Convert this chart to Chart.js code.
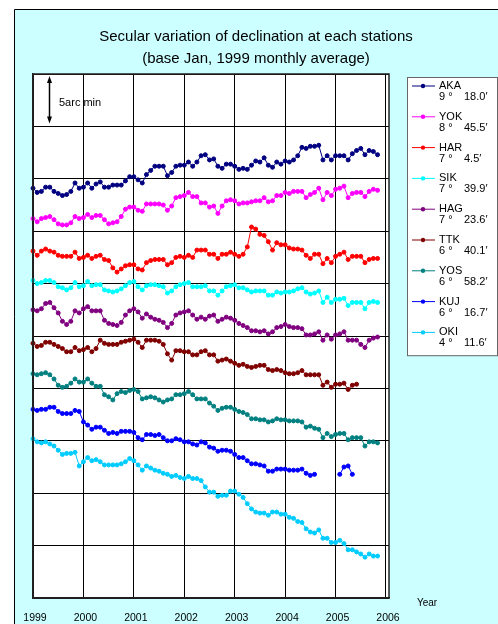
<!DOCTYPE html>
<html>
<head>
<meta charset="utf-8">
<script src="https://cdn.jsdelivr.net/npm/chart.js@4.4.1/dist/chart.umd.min.js"></script>
<style>
  html, body { margin: 0; padding: 0; background: #fff; }
</style>
</head>
<body>
<canvas id="decl" width="498" height="624"></canvas>
<script>
const FONT = '"Liberation Sans", Arial, sans-serif';

const STATIONS = ['AKA', 'YOK', 'HAR', 'SIK', 'HAG', 'TTK', 'YOS', 'KUJ', 'OKI'];
const BASE_DEG = ['9', '8', '7', '7', '7', '6', '6', '6', '4'];
const BASE_MIN = ['18.0', '45.5', '4.5', '39.9', '23.6', '40.1', '58.2', '16.7', '11.6'];
const COLORS = ['#000080', '#ff00ff', '#ff0000', '#00ffff', '#800080', '#800000', '#008080', '#0000ff', '#00ccff'];

const START_YEAR = 1999;
const YEAR_TICKS = [1999, 2000, 2001, 2002, 2003, 2004, 2005, 2006];

// monthly values (arc min, offset per station for display), from Jan 1999
const aka = [39.1,38.7,38.8,39.2,39.2,38.8,38.6,38.4,38.5,38.8,
  39.6,39.1,39.2,39.6,39.1,39.5,39.7,39.2,39.2,39.4,
  39.4,39.4,39.8,40.2,40.2,39.9,39.6,40.4,40.8,41.2,
  41.2,41.2,40.3,40.6,41.2,41.3,41.3,41.6,41.2,41.6,
  42.2,42.3,41.8,41.9,41.2,41.0,41.4,41.4,41.2,40.9,
  41.0,40.9,41.3,41.7,41.6,42.0,41.3,41.1,41.6,41.4,
  41.7,41.6,41.8,42.2,43.0,42.9,43.1,43.1,43.2,41.8,
  42.2,41.8,42.2,42.2,42.2,41.8,42.4,42.7,42.9,42.3,
  42.7,42.6,42.3];
const yok = [36.2,35.9,36.2,36.3,36.4,36.1,35.7,35.6,35.6,35.8,
  36.4,36.2,36.3,36.6,36.3,36.5,36.5,36.1,35.7,35.8,
  35.9,36.4,37.1,37.3,37.3,37.0,36.9,37.6,37.6,37.6,
  37.6,37.5,37.0,37.4,38.2,38.3,38.4,38.7,38.3,38.3,
  37.7,37.7,37.3,37.4,36.7,37.4,37.9,38.0,37.9,37.6,
  37.7,37.7,37.8,37.9,37.9,38.2,37.8,37.9,38.4,38.4,
  38.7,38.6,38.8,38.8,38.8,38.2,38.5,38.7,39.1,38.0,
  38.7,38.4,39.0,39.1,39.3,38.2,38.6,38.7,38.7,38.3,
  38.8,39.0,38.9];
const har = [33.1,32.7,33.1,33.3,33.1,33.0,32.7,32.6,32.6,32.6,
  33.0,32.4,32.5,32.7,32.4,32.6,32.7,32.3,32.2,31.5,
  31.1,31.4,31.7,31.8,31.8,31.4,31.3,32.0,32.2,32.3,
  32.3,32.3,31.8,32.0,32.5,32.6,32.5,32.7,32.5,33.2,
  33.2,33.2,32.8,32.8,32.4,32.8,32.8,33.0,32.8,32.6,
  32.8,33.5,35.4,35.2,34.7,34.6,34.0,33.2,33.9,33.7,
  33.7,33.4,33.3,33.3,33.2,32.7,32.4,32.8,32.8,31.9,
  32.4,32.0,32.6,32.8,33.0,32.3,32.6,32.6,32.6,32.0,
  32.3,32.4,32.4];
const sik = [30.3,30.0,30.1,30.3,30.3,30.1,29.7,29.6,29.4,29.6,
  30.1,29.7,29.8,30.2,29.8,29.9,29.9,29.4,29.3,29.2,
  29.3,29.5,29.8,30.1,30.2,29.7,29.4,29.8,29.9,29.9,
  29.8,29.7,29.1,29.3,29.7,29.9,30.0,30.1,29.7,29.7,
  29.7,29.8,29.3,29.3,28.9,29.3,29.7,29.8,29.9,29.6,
  29.6,29.4,29.2,29.3,29.3,29.3,28.9,28.9,29.2,29.1,
  29.2,29.2,29.3,29.5,29.6,29.2,29.0,29.1,29.3,28.2,
  28.7,28.2,28.5,28.5,28.6,27.9,28.2,28.2,28.2,27.6,
  28.2,28.3,28.2];
const hag = [27.5,27.4,27.6,28.1,28.2,27.7,27.2,26.4,26.1,26.4,
  27.4,27.2,27.6,27.8,27.4,27.4,27.4,26.5,26.2,26.1,
  26.0,26.3,27.0,27.4,27.6,27.3,26.7,27.1,26.8,26.6,
  26.5,26.3,25.8,26.2,27.0,27.2,27.3,27.4,27.0,26.6,
  26.8,26.6,26.9,27.0,26.4,26.6,26.8,26.7,26.5,26.2,
  26.0,25.8,25.5,25.5,25.4,25.5,25.2,25.4,25.8,25.9,
  26.1,25.9,25.8,25.8,25.7,25.1,25.1,25.2,25.4,24.6,
  25.1,24.7,25.1,25.2,25.4,24.6,24.6,24.6,24.2,23.9,
  24.6,24.8,24.9];
const ttk = [24.3,24.0,24.1,24.4,24.4,24.2,24.0,23.8,23.5,23.5,
  23.9,23.6,23.7,23.9,23.5,23.8,24.6,24.3,24.2,24.2,
  24.2,24.4,24.5,24.6,24.7,24.4,23.9,24.6,24.6,24.6,
  24.5,24.2,23.3,22.7,23.6,23.6,23.5,23.5,23.2,23.2,
  23.5,23.6,23.2,23.2,22.6,22.7,22.8,22.6,22.4,22.2,
  22.3,22.1,22.0,22.1,22.2,22.2,21.8,21.7,21.8,21.7,
  21.5,21.4,21.4,21.5,21.7,21.3,21.3,21.3,21.3,20.3,
  20.6,20.1,20.4,20.4,20.5,19.9,20.3,20.4];
const yos = [21.4,21.3,21.4,21.5,21.3,20.9,20.3,20.1,20.2,20.5,
  20.9,20.6,20.6,20.9,20.5,20.2,20.2,19.4,19.2,18.9,
  19.5,19.7,19.6,19.8,19.9,19.7,19.0,19.1,19.2,19.1,
  18.9,18.7,18.9,19.0,19.4,19.4,19.5,19.7,19.4,19.0,
  19.0,19.0,18.6,18.3,17.9,18.1,18.2,18.2,18.0,17.8,
  17.7,17.5,17.1,17.1,17.0,17.0,16.8,16.9,17.1,17.0,
  17.0,16.9,16.9,16.9,16.8,16.3,16.4,16.2,16.1,15.3,
  15.7,15.4,15.6,15.7,15.7,15.1,15.3,15.3,15.3,14.5,
  14.9,14.9,14.8];
const kuj = [18.0,17.9,18.0,18.0,18.2,18.2,17.8,17.6,17.6,17.6,
  17.9,17.8,16.8,16.5,16.1,16.3,16.3,16.0,15.7,15.8,
  15.7,15.9,15.9,15.9,15.8,15.3,15.1,15.6,15.6,15.5,
  15.6,15.3,15.0,15.0,15.2,15.1,14.9,14.9,14.7,14.6,
  14.9,14.8,14.4,14.3,14.0,14.1,14.1,14.0,13.7,13.4,
  13.4,13.1,12.8,12.8,12.7,12.6,12.1,12.1,12.3,12.3,
  12.3,12.2,12.2,12.2,12.3,11.9,11.7,11.8,null,null,
  null,null,null,11.8,12.5,12.6,11.8];
const oki = [15.2,14.9,14.8,14.9,14.7,14.5,14.1,13.7,13.8,13.8,
  13.9,12.6,13.0,13.4,13.1,13.2,13.0,12.7,12.7,12.7,
  12.7,12.8,13.0,13.3,13.1,12.7,12.2,12.6,12.4,12.2,
  12.1,11.9,11.8,11.6,11.7,11.5,11.4,11.6,11.4,11.4,
  11.2,10.6,10.1,10.1,9.7,9.8,9.8,10.2,10.2,9.9,
  9.6,9.0,8.5,8.2,8.1,8.1,7.9,8.2,8.2,8.0,
  8.0,7.7,7.6,7.3,7.2,6.6,6.3,6.2,6.5,5.7,
  5.7,5.3,5.3,5.5,5.2,4.6,4.6,4.4,4.2,3.9,
  4.2,4.0,4.0];

const SERIES = [aka, yok, har, sik, hag, ttk, yos, kuj, oki];

function toPoints(values) {
  return values.map((v, i) => ({ x: START_YEAR + i / 12, y: v }));
}

const FRAME_LEFT = 14;
const FRAME_TOP = 9;

const framePlugin = {
  id: 'frame',
  beforeDraw(chart) {
    const { ctx, chartArea: a } = chart;
    ctx.save();
    ctx.fillStyle = '#fff';
    ctx.fillRect(0, 0, chart.width, chart.height);
    ctx.fillStyle = '#ccffff';
    ctx.fillRect(FRAME_LEFT, FRAME_TOP, chart.width - FRAME_LEFT, chart.height - FRAME_TOP);
    ctx.strokeStyle = '#000';
    ctx.lineWidth = 1;
    ctx.beginPath();
    ctx.moveTo(FRAME_LEFT + 0.5, chart.height);
    ctx.lineTo(FRAME_LEFT + 0.5, FRAME_TOP + 0.5);
    ctx.lineTo(chart.width, FRAME_TOP + 0.5);
    ctx.stroke();
    ctx.fillStyle = '#fff';
    ctx.fillRect(a.left, a.top, a.right - a.left, a.bottom - a.top);
    ctx.restore();
  }
};

const notesPlugin = {
  id: 'notes',
  afterDraw(chart) {
    const { ctx, chartArea: a, scales: { y } } = chart;
    ctx.save();

    // plot border
    ctx.strokeStyle = '#222';
    ctx.lineWidth = 1.5;
    ctx.strokeRect(a.left, a.top, a.right - a.left, a.bottom - a.top);

    // 5 arc min scale arrow
    const ax = Math.round(a.left + 16) + 0.5;
    const y0 = y.getPixelForValue(50) + 2;
    const y1 = y.getPixelForValue(45) - 3;
    ctx.strokeStyle = '#000';
    ctx.fillStyle = '#000';
    ctx.lineWidth = 1.5;
    ctx.beginPath();
    ctx.moveTo(ax, y0 + 4);
    ctx.lineTo(ax, y1 - 4);
    ctx.stroke();
    ctx.beginPath();
    ctx.moveTo(ax, y0);
    ctx.lineTo(ax - 2.5, y0 + 7);
    ctx.lineTo(ax + 2.5, y0 + 7);
    ctx.closePath();
    ctx.fill();
    ctx.beginPath();
    ctx.moveTo(ax, y1);
    ctx.lineTo(ax - 2.5, y1 - 7);
    ctx.lineTo(ax + 2.5, y1 - 7);
    ctx.closePath();
    ctx.fill();
    ctx.font = '11px ' + FONT;
    ctx.textAlign = 'left';
    ctx.textBaseline = 'middle';
    ctx.fillText('5arc min', a.left + 26, (y0 + y1) / 2 + 3);

    // axis name
    ctx.font = '10px ' + FONT;
    ctx.textAlign = 'center';
    ctx.fillText('Year', a.right + 38, a.bottom + 5);

    // station legend
    const lx = a.right + 18;
    const ly = a.top + 3;
    const rowH = 30.8;
    const boxW = 90;
    const boxH = rowH * STATIONS.length + 1;
    ctx.fillStyle = '#fff';
    ctx.fillRect(lx, ly, boxW, boxH);
    ctx.strokeStyle = '#666';
    ctx.lineWidth = 1;
    ctx.strokeRect(lx + 0.5, ly + 0.5, boxW, boxH);
    ctx.font = '11px ' + FONT;
    ctx.textAlign = 'left';
    STATIONS.forEach((name, i) => {
      const cy = ly + 9 + i * rowH;
      ctx.strokeStyle = COLORS[i];
      ctx.lineWidth = 1;
      ctx.beginPath();
      ctx.moveTo(lx + 5, cy);
      ctx.lineTo(lx + 28, cy);
      ctx.stroke();
      ctx.fillStyle = COLORS[i];
      ctx.beginPath();
      ctx.arc(lx + 16, cy, 2.2, 0, Math.PI * 2);
      ctx.fill();
      ctx.fillStyle = '#000';
      ctx.fillText(name, lx + 32, cy);
      ctx.fillText(BASE_DEG[i] + ' \u00b0', lx + 32, cy + 11);
      ctx.fillText(BASE_MIN[i] + '\u2032', lx + 57, cy + 11);
    });

    ctx.restore();
  }
};

const datasets = STATIONS.map((name, k) => ({
  label: name,
  data: toPoints(SERIES[k]),
  borderColor: COLORS[k],
  backgroundColor: COLORS[k],
  borderWidth: 1,
  pointRadius: 2,
  pointBorderWidth: 1,
  pointHoverRadius: 2,
  tension: 0,
  spanGaps: false,
  clip: false
}));

new Chart(document.getElementById('decl'), {
  type: 'line',
  data: { datasets },
  options: {
    responsive: false,
    animation: false,
    events: [],
    layout: { padding: { left: FRAME_LEFT, top: FRAME_TOP, right: 0, bottom: 0 } },
    plugins: {
      legend: { display: false },
      tooltip: { enabled: false },
      title: {
        display: true,
        text: ['Secular variation of declination at each stations', '(base Jan, 1999 monthly average)'],
        color: '#000',
        font: { family: FONT, size: 15, weight: 'normal', lineHeight: '22px' },
        padding: { top: 17, bottom: 4 }
      }
    },
    scales: {
      x: {
        type: 'linear',
        min: 1999,
        max: 2006.06,
        afterBuildTicks: (scale) => { scale.ticks = YEAR_TICKS.map(v => ({ value: v })); },
        ticks: {
          color: '#000',
          font: { family: FONT, size: 10.5 },
          padding: 14,
          labelOffset: 2,
          maxRotation: 0,
          autoSkip: false,
          callback: (v) => String(v)
        },
        grid: { color: '#000', lineWidth: 1, drawTicks: false },
        border: { color: '#222', width: 1.5 },
        afterFit: (scale) => { scale.height = 26; }
      },
      y: {
        min: 0,
        max: 50,
        ticks: { display: false, stepSize: 5 },
        grid: { color: '#000', lineWidth: 1, drawTicks: false },
        border: { color: '#222', width: 1.5 },
        afterFit: (scale) => { scale.width = 19; }
      },
      side: {
        position: 'right',
        min: 0,
        max: 1,
        ticks: { display: false },
        grid: { display: false, drawTicks: false },
        border: { display: false },
        afterFit: (scale) => { scale.width = 109; }
      }
    }
  },
  plugins: [framePlugin, notesPlugin]
});
</script>
</body>
</html>
